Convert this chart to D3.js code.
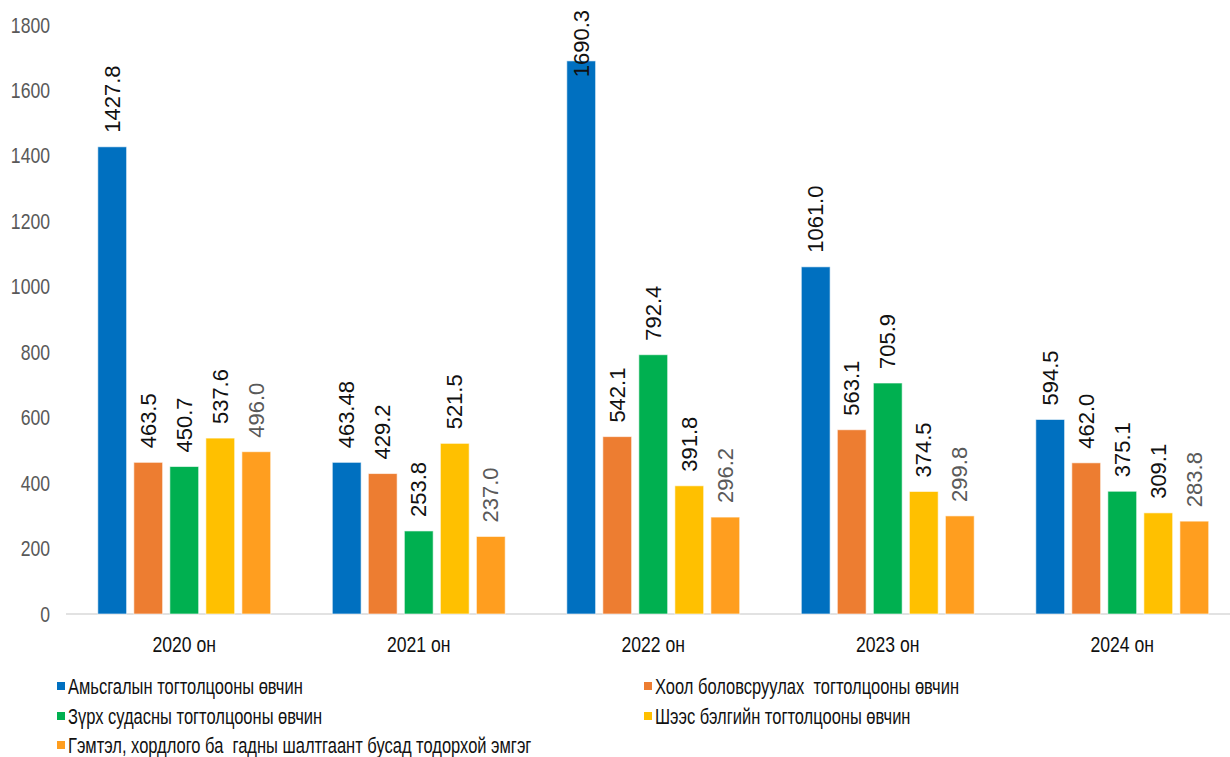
<!DOCTYPE html>
<html>
<head>
<meta charset="utf-8">
<script src="https://cdn.jsdelivr.net/npm/d3@7"></script>
<style>
  body { margin: 0; background: #fff; }
  text { font-family: "Liberation Sans", Arial, sans-serif; }
</style>
</head>
<body>
<div id="chart"></div>
<script>
(function () {

  // Data
  const years = ["2020 он", "2021 он", "2022 он", "2023 он", "2024 он"];
  const seriesNames = [
    "Амьсгалын тогтолцооны өвчин",
    "Хоол боловсруулах  тогтолцооны өвчин",
    "Зүрх судасны тогтолцооны өвчин",
    "Шээс бэлгийн тогтолцооны өвчин",
    "Гэмтэл, хордлого ба  гадны шалтгаант бусад тодорхой эмгэг"
  ];
  const respiratory = [1427.8, 463.48, 1690.3, 1061.0, 594.5];
  const digestive   = [463.5, 429.2, 542.1, 563.1, 462.0];
  const circulatory = [450.7, 253.8, 792.4, 705.9, 375.1];
  const urogenital  = [537.6, 521.5, 391.8, 374.5, 309.1];
  const injury      = [496.0, 237.0, 296.2, 299.8, 283.8];
  const labelText = [
    ["1427.8", "463.48", "1690.3", "1061.0", "594.5"],
    ["463.5", "429.2", "542.1", "563.1", "462.0"],
    ["450.7", "253.8", "792.4", "705.9", "375.1"],
    ["537.6", "521.5", "391.8", "374.5", "309.1"],
    ["496.0", "237.0", "296.2", "299.8", "283.8"]
  ];
  const yTicks = [0, 200, 400, 600, 800, 1000, 1200, 1400, 1600, 1800];

  const seriesValues = [respiratory, digestive, circulatory, urogenital, injury];
  const colors = ["#0070C0", "#ED7D31", "#00B050", "#FFC000", "#FF9E1F"];
  const labelColors = ["#111", "#111", "#111", "#111", "#595959"];

  const W = 1230, H = 757;
  const margin = { top: 25, right: 0, bottom: 143, left: 66 };
  const width = W - margin.left - margin.right,
        height = H - margin.top - margin.bottom;
  const squeeze = 0.8; // stand-in for a narrow font

  const svg = d3.select("#chart")
    .append("svg")
    .attr("width", W)
    .attr("height", H);

  const g = svg.append("g")
    .attr("transform", `translate(${margin.left},${margin.top})`);

  // category slots are a bit wider than the plot, last one runs past the edge
  const x0 = d3.scaleBand()
    .domain(years)
    .range([1, 1173.5])
    .padding(0);

  const x1 = d3.scaleBand()
    .domain(d3.range(seriesNames.length))
    .range([0, x0.bandwidth()])
    .paddingInner(0.2)
    .paddingOuter(0.855);

  const y = d3.scaleLinear()
    .domain([0, 1800])
    .range([height, 0]);

  // Baseline
  g.append("line")
    .attr("x1", 0).attr("x2", width)
    .attr("y1", y(0)).attr("y2", y(0))
    .attr("stroke", "#d9d9d9")
    .attr("stroke-width", 1.5);

  // Y axis labels
  const yAxis = g.append("g")
    .call(d3.axisLeft(y).tickValues(yTicks).tickFormat(d3.format("d")).tickSize(0).tickPadding(16));
  yAxis.select(".domain").remove();
  yAxis.selectAll(".tick text")
    .attr("fill", "#595959")
    .style("font-size", "22px")
    .attr("x", -16 / squeeze)
    .attr("transform", `scale(${squeeze},1)`);

  // X axis labels
  const xAxis = g.append("g")
    .attr("transform", `translate(0,${height})`)
    .call(d3.axisBottom(x0).tickSize(0).tickPadding(22));
  xAxis.select(".domain").remove();
  xAxis.selectAll(".tick text")
    .attr("fill", "#111")
    .style("font-size", "22px")
    .attr("transform", `scale(${squeeze},1)`);

  // Bars and labels
  const flat = [];
  years.forEach((yr, i) => {
    seriesValues.forEach((vals, s) => {
      flat.push({ year: yr, s: s, value: vals[i], label: labelText[s][i] });
    });
  });

  g.selectAll("rect.bar")
    .data(flat)
    .enter()
    .append("rect")
    .attr("class", "bar")
    .attr("x", d => x0(d.year) + x1(d.s))
    .attr("y", d => y(d.value))
    .attr("width", x1.bandwidth())
    .attr("height", d => y(0) - y(d.value))
    .attr("fill", d => colors[d.s])
    .attr("stroke", "#fff")
    .attr("stroke-opacity", 0.6)
    .attr("stroke-width", 1);

  const labels = g.selectAll("text.vlabel")
    .data(flat)
    .enter()
    .append("text")
    .attr("class", "vlabel")
    .attr("dominant-baseline", "central")
    .attr("text-anchor", "start")
    .attr("fill", d => labelColors[d.s])
    .style("font-size", "22px")
    .text(d => d.label);

  // keep labels inside the top edge, like the original does with 1690.3
  labels.attr("transform", function (d) {
    const len = this.getComputedTextLength();
    const cx = x0(d.year) + x1(d.s) + x1.bandwidth() / 2;
    const cy = Math.max(y(d.value) - 14, -margin.top + 10 + len);
    return `translate(${cx},${cy}) rotate(-90)`;
  });

  // Legend
  const legendPos = [
    { x: 57, y: 686 },
    { x: 644, y: 686 },
    { x: 57, y: 716 },
    { x: 644, y: 716 },
    { x: 57, y: 745 }
  ];
  const legendSqueeze = 0.75;

  const legend = svg.append("g");
  seriesNames.forEach((name, i) => {
    const item = legend.append("g")
      .attr("transform", `translate(${legendPos[i].x},${legendPos[i].y})`);
    item.append("rect")
      .attr("x", 0).attr("y", -4)
      .attr("width", 8).attr("height", 8)
      .attr("fill", colors[i]);
    item.append("text")
      .attr("x", 11 / legendSqueeze)
      .attr("y", 0)
      .attr("transform", `scale(${legendSqueeze},1)`)
      .attr("dominant-baseline", "central")
      .attr("fill", "#111")
      .style("font-size", "22px")
      .style("white-space", "pre")
      .text(name);
  });

})();
</script>
</body>
</html>
